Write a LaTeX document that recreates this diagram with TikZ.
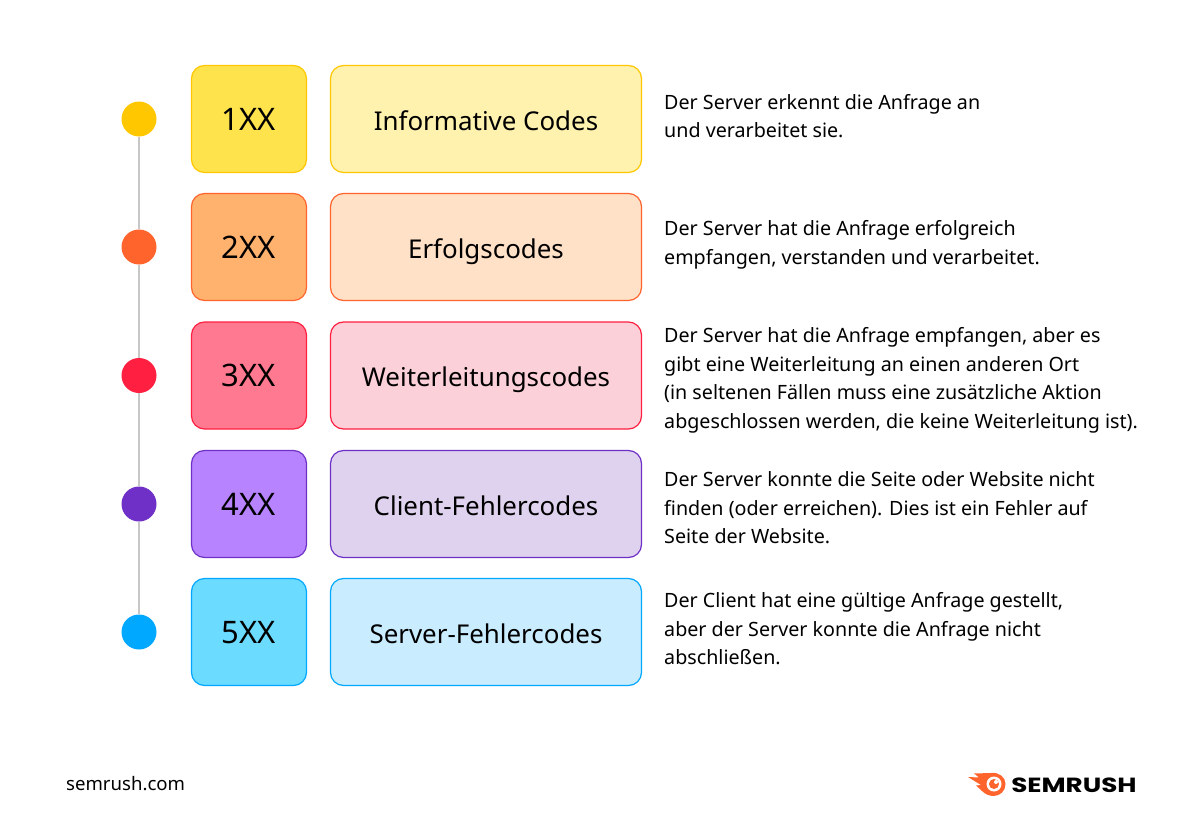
\documentclass[tikz,border=0pt]{standalone}
\usepackage{fontspec}
\setmainfont{Noto Sans}
\newfontfamily\logofont{Poppins}
\definecolor{c1a}{HTML}{FFC700}\definecolor{c1b}{HTML}{FFE34D}\definecolor{c1c}{HTML}{FFF1AE}
\definecolor{c2a}{HTML}{FF642D}\definecolor{c2b}{HTML}{FFB26E}\definecolor{c2c}{HTML}{FFE1C7}
\definecolor{c3a}{HTML}{FF1F41}\definecolor{c3b}{HTML}{FF7A90}\definecolor{c3c}{HTML}{FBD0D9}
\definecolor{c4a}{HTML}{6F30C8}\definecolor{c4b}{HTML}{B883FF}\definecolor{c4c}{HTML}{DFD2EE}
\definecolor{c5a}{HTML}{00A8FF}\definecolor{c5b}{HTML}{6BDBFF}\definecolor{c5c}{HTML}{C9ECFF}
\tikzset{x=1pt,y=-1pt,
 codebox/.style={rounded corners=13pt,line width=1.2pt,minimum width=115pt,minimum height=107pt,inner sep=0,text height=22pt,text depth=0pt,font=\fontsize{31}{32}\selectfont,text=black},
 namebox/.style={rounded corners=13pt,line width=1.2pt,minimum width=311pt,minimum height=107pt,inner sep=0,text height=26pt,text depth=4pt,font=\fontsize{25.9}{30}\selectfont,text=black},
 dotnode/.style={circle,minimum size=35pt,inner sep=0},
 desc/.style={anchor=west,align=left,inner sep=0,font=\fontsize{19.7}{28.5}\selectfont,text=black},
 railline/.style={line width=1.3pt,color=black!22}}
\begin{document}
\begin{tikzpicture}
\useasboundingbox (0,0) rectangle (1200,816);
\fill[white] (0,0) rectangle (1200,816);
\node[dotnode,fill=c1a] (d1) at (139,119) {};
\node[dotnode,fill=c2a] (d2) at (139,247) {};
\node[dotnode,fill=c3a] (d3) at (139,375.5) {};
\node[dotnode,fill=c4a] (d4) at (139,504) {};
\node[dotnode,fill=c5a] (d5) at (139,632) {};
\draw[railline] (d1) -- (d2);
\draw[railline] (d2) -- (d3);
\draw[railline] (d3) -- (d4);
\draw[railline] (d4) -- (d5);
\node[codebox,draw=c1a,fill=c1b] (a1) at (249,119) {1XX};
\node[codebox,draw=c2a,fill=c2b] (a2) at (249,247) {2XX};
\node[codebox,draw=c3a,fill=c3b] (a3) at (249,375.5) {3XX};
\node[codebox,draw=c4a,fill=c4b] (a4) at (249,504) {4XX};
\node[codebox,draw=c5a,fill=c5b] (a5) at (249,632) {5XX};
\node[namebox,draw=c1a,fill=c1c] (b1) at (486,119) {Informative Codes};
\node[namebox,draw=c2a,fill=c2c] (b2) at (486,247) {Erfolgscodes};
\node[namebox,draw=c3a,fill=c3c] (b3) at (486,375.5) {Weiterleitungscodes};
\node[namebox,draw=c4a,fill=c4c] (b4) at (486,504) {Client-Fehlercodes};
\node[namebox,draw=c5a,fill=c5c] (b5) at (486,632) {Server-Fehlercodes};
\node[desc] (t1) at (664,116) {Der Server erkennt die Anfrage an\\und verarbeitet sie.};
\node[desc] (t2) at (664,245) {Der Server hat die Anfrage erfolgreich\\empfangen, verstanden und verarbeitet.};
\node[desc] (t3) at (664,380.5) {Der Server hat die Anfrage empfangen, aber es\\gibt eine Weiterleitung an einen anderen Ort\\(in seltenen Fällen muss eine zusätzliche Aktion\\abgeschlossen werden, die keine Weiterleitung ist).};
\node[desc] (t4) at (664,508) {Der Server konnte die Seite oder Website nicht\\finden (oder erreichen). Dies ist ein Fehler auf\\Seite der Website.};
\node[desc] (t5) at (664,629) {Der Client hat eine gültige Anfrage gestellt,\\aber der Server konnte die Anfrage nicht\\abschließen.};
\node[anchor=west,inner sep=0,xscale=1.28,font=\logofont\bfseries\fontsize{20.5}{24}\selectfont] (logo) at (1011,785) {SEMRUSH};
\node[anchor=west,inner sep=0,font=\fontsize{18.6}{22}\selectfont] (site) at (66,784) {semrush.com};
\fill[c2a] (974,773.5) -- (991,773) .. controls (999,772) and (1005.5,777) .. (1005.5,784) .. controls (1005.5,791) and (1000,796) .. (993.5,796) .. controls (989,796) and (985,794) .. (982,791) -- (976,785.5) -- (981,785) -- (968,777) -- (979,777.5) -- cycle;
\fill[white] (994,784) circle (7.5pt);
\fill[c2a] (994,784) circle (5pt);
\fill[white] (996,782) circle (2pt);
\end{tikzpicture}
\end{document}
